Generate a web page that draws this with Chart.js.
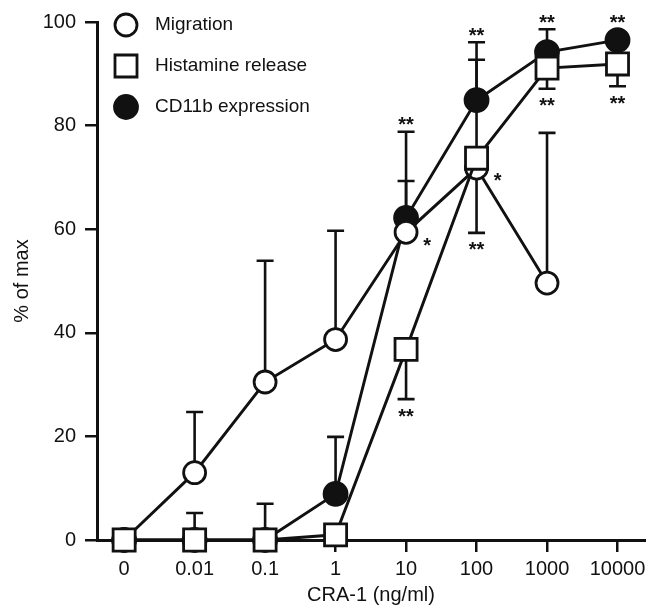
<!DOCTYPE html>
<html><head><meta charset="utf-8">
<script src="https://cdn.jsdelivr.net/npm/chart.js@4/dist/chart.umd.min.js"></script>
<style>html,body{margin:0;padding:0;background:#fff}#wrap{width:646px;height:607px;position:relative}</style>
</head><body><div id="wrap"><canvas id="c"></canvas></div>
<script>
// ---- data ----
const categories = ['0', '0.01', '0.1', '1', '10', '100', '1000', '10000'];
const migration        = [0, 13.0, 30.5, 38.7, 59.4, 71.8, 49.6, null];
const migrationErrUp   = [null, 24.7, 53.9, 59.7, 69.3, 92.7, 78.6, null];
const histamine        = [0, 0, 0, 1.0, 36.8, 73.7, 91.1, 91.9];
const histamineErrUp   = [null, 5.2, 7.0, null, null, null, null, null];
const histamineErrDown = [null, null, null, null, 27.2, 59.3, 87.1, 87.6];
const cd11b            = [0, 0, 0, 8.9, 62.2, 84.9, 94.2, 96.5];
const cd11bErrUp       = [null, null, null, 19.9, 78.8, 96.1, 98.6, null];
const sigCd11b     = ['', '', '', '', '**', '**', '**', '**'];
const sigHistamine = ['', '', '', '', '**', '**', '**', '**'];
const sigMigration = ['', '', '', '', '*', '*', '', ''];
const yTicks = [0, 20, 40, 60, 80, 100];

const FONT = '"Liberation Sans", Arial, Helvetica, sans-serif';
const INK = '#111';

const toXY = arr => arr.map((v, i) => (v === null ? null : { x: i, y: v })).filter(p => p);

const datasets = [
  { label: 'Migration', data: toXY(migration), pointStyle: 'circle', pointRadius: 11,
    backgroundColor: '#fff', pointBackgroundColor: '#fff', order: 1,
    errUp: migrationErrUp, errDown: null, sig: sigMigration, sigPos: 'right' },
  { label: 'Histamine release', data: toXY(histamine), pointStyle: 'rect', pointRadius: 15.6,
    backgroundColor: '#fff', pointBackgroundColor: '#fff', order: 0,
    errUp: histamineErrUp, errDown: histamineErrDown, sig: sigHistamine, sigPos: 'below' },
  { label: 'CD11b expression', data: toXY(cd11b), pointStyle: 'circle', pointRadius: 11.5,
    backgroundColor: INK, pointBackgroundColor: INK, order: 2,
    errUp: cd11bErrUp, errDown: null, sig: sigCd11b, sigPos: 'above' }
].map(d => Object.assign({
  borderColor: INK, pointBorderColor: INK, borderWidth: 2.9, pointBorderWidth: 2.8,
  showLine: true, tension: 0, pointHoverRadius: d.pointRadius, clip: false
}, d));

const errorBars = {
  id: 'errorBars',
  beforeDatasetsDraw(chart) {
    const { ctx, scales: { x, y } } = chart;
    ctx.save();
    ctx.strokeStyle = INK; ctx.lineWidth = 2.6; ctx.lineCap = 'butt';
    const cap = 8.5;
    chart.data.datasets.forEach(ds => {
      const vals = ds.data;
      [ds.errUp, ds.errDown].forEach(errs => {
        if (!errs) return;
        errs.forEach((e, i) => {
          if (e === null) return;
          const p = vals.find(q => q.x === i);
          if (!p) return;
          const px = x.getPixelForValue(i);
          const y1 = y.getPixelForValue(p.y), y2 = y.getPixelForValue(e);
          ctx.beginPath();
          ctx.moveTo(px, y1); ctx.lineTo(px, y2);
          ctx.moveTo(px - cap, y2); ctx.lineTo(px + cap, y2);
          ctx.stroke();
        });
      });
    });
    ctx.restore();
  },
  afterDatasetsDraw(chart) {
    const { ctx, scales: { x, y } } = chart;
    ctx.save();
    ctx.fillStyle = INK;
    const fs = 20;
    ctx.font = 'bold ' + fs + 'px ' + FONT;
    ctx.textAlign = 'center';
    ctx.textBaseline = 'alphabetic';
    const lift = 0.57 * fs; // visual centre of asterisk above baseline
    chart.data.datasets.forEach(ds => {
      ds.sig.forEach((s, i) => {
        if (!s) return;
        const p = ds.data.find(q => q.x === i);
        if (!p) return;
        const px = x.getPixelForValue(i);
        const py = y.getPixelForValue(p.y);
        let cx = px, cy;
        if (ds.sigPos === 'above') {
          const e = ds.errUp && ds.errUp[i];
          cy = e !== null && e !== undefined ? y.getPixelForValue(e) - 12 : py - 23;
        } else if (ds.sigPos === 'below') {
          const e = ds.errDown && ds.errDown[i];
          cy = e !== null && e !== undefined ? y.getPixelForValue(e) + 12 : py + 23;
        } else {
          cx = px + 21; cy = py + 8;
        }
        ctx.fillText(s, cx, cy + lift);
      });
    });
    ctx.restore();
  },
  afterDraw(chart) {
    const { ctx, chartArea } = chart;
    ctx.save();
    const mx = chartArea.left + 29, tx = chartArea.left + 58;
    chart.data.datasets.forEach((ds, i) => {
      const cy = chartArea.top + 3 + i * 41;
      ctx.lineWidth = 2.8; ctx.strokeStyle = INK;
      ctx.fillStyle = ds.pointBackgroundColor;
      ctx.beginPath();
      if (ds.pointStyle === 'rect') {
        ctx.rect(mx - 11, cy - 11, 22, 22);
      } else {
        ctx.arc(mx, cy, ds.pointRadius, 0, Math.PI * 2);
      }
      ctx.fill(); ctx.stroke();
      ctx.fillStyle = INK;
      ctx.font = '19px ' + FONT;
      ctx.textAlign = 'left'; ctx.textBaseline = 'middle';
      ctx.fillText(ds.label, tx, cy);
    });
    ctx.restore();
  }
};

new Chart(document.getElementById('c'), {
  type: 'scatter',
  data: { datasets },
  plugins: [errorBars],
  options: {
    responsive: true, maintainAspectRatio: false, animation: false, events: [],
    layout: { autoPadding: false, padding: { top: 22, right: 1, left: 0, bottom: 0 } },
    plugins: { legend: { display: false }, tooltip: { enabled: false } },
    scales: {
      x: {
        type: 'linear', min: -0.385, max: 7.39,
        afterBuildTicks: s => { s.ticks = categories.map((_, i) => ({ value: i })); },
        afterFit: s => { s.height = 67; s.paddingLeft = 0; s.paddingRight = 0; },
        ticks: { autoSkip: false, maxRotation: 0, color: INK, padding: 5,
          font: { family: FONT, size: 20 }, callback: v => categories[v] },
        grid: { display: true, drawOnChartArea: false, drawTicks: true, tickLength: 12,
          color: INK, lineWidth: 2.5 },
        border: { display: true, color: INK, width: 3 },
        title: { display: true, text: 'CRA-1 (ng/ml)', color: INK,
          font: { family: FONT, size: 20 }, padding: { top: 0, bottom: 0 } }
      },
      y: {
        type: 'linear', min: 0, max: 100,
        afterBuildTicks: s => { s.ticks = yTicks.map(v => ({ value: v })); },
        afterFit: s => { s.width = 97; s.paddingTop = 0; s.paddingBottom = 0; },
        ticks: { color: INK, padding: 9, font: { family: FONT, size: 20 } },
        grid: { display: true, drawOnChartArea: false, drawTicks: true, tickLength: 12,
          color: INK, lineWidth: 2.5 },
        border: { display: true, color: INK, width: 3 },
        title: { display: true, text: '% of max', color: INK,
          font: { family: FONT, size: 20 }, padding: { top: 10, bottom: 0 } }
      }
    }
  }
});
</script></body></html>
